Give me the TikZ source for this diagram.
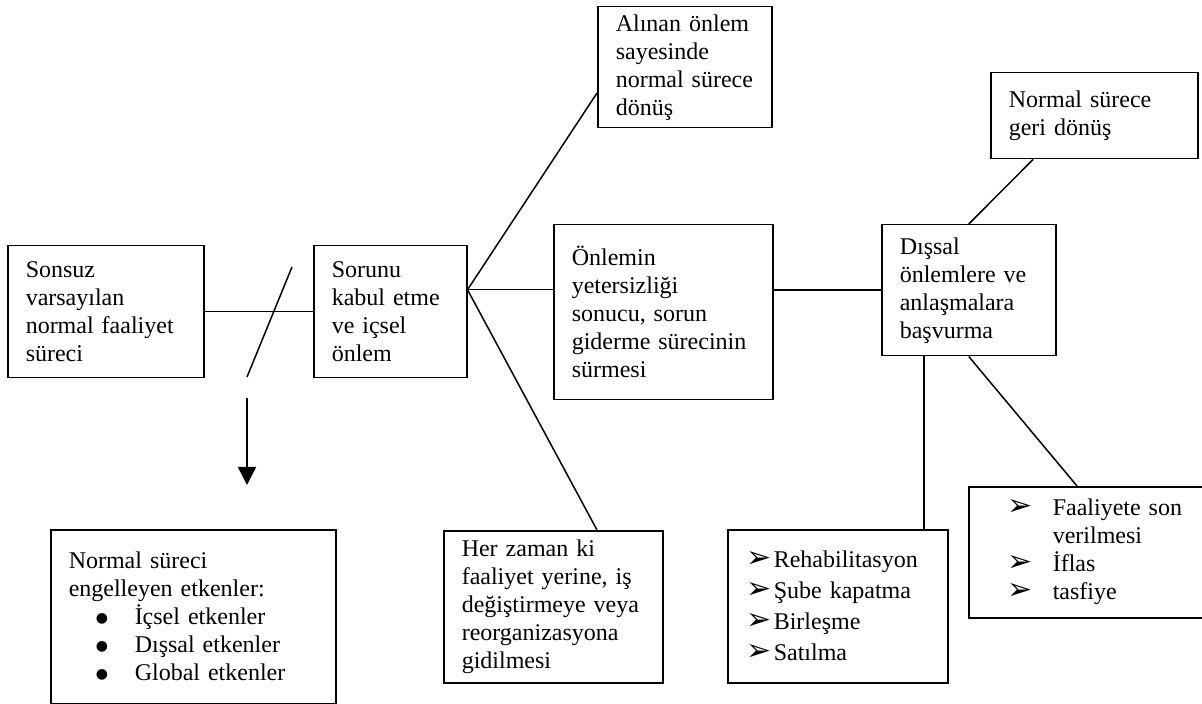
\documentclass[tikz,border=0pt]{standalone}
\usepackage{fontspec}
\setmainfont{Liberation Serif}
\newfontfamily\okfont{DejaVu Sans}
\usetikzlibrary{arrows.meta}

% list marks
\newcommand{\nokta}{\hspace*{13.5pt}\makebox[19.5pt][l]{\raisebox{1pt}{\okfont\fontsize{7}{7}\selectfont ●}}}
\newcommand{\ok}{\hspace*{0.5pt}\makebox[13.5pt][l]{\okfont\fontsize{15}{14}\selectfont ➢}}
\newcommand{\okk}{\hspace*{10.5pt}\makebox[22.5pt][l]{\okfont\fontsize{15}{14}\selectfont ➢}}

\begin{document}
\begin{tikzpicture}[
    x=0.5pt, y=-0.5pt,
    line width=0.75pt,
    >={Triangle[length=9pt,width=9pt]},
    kutu/.style={draw, anchor=north west, align=left, inner xsep=9pt, inner ysep=0pt,
                 font=\fontsize{12}{14}\selectfont}
]

\useasboundingbox (0,0) rectangle (1202,704);

% Main line
\node[kutu, minimum width=98pt, minimum height=66pt, text width=80pt] (sonsuz) at (7,245)
    {Sonsuz\\varsayılan\\normal faaliyet\\süreci};
\node[kutu, minimum width=76.5pt, minimum height=66pt, text width=58.5pt] (sorunu) at (313,245)
    {Sorunu\\kabul etme\\ve içsel\\önlem};
\node[kutu, minimum width=109.5pt, minimum height=87.5pt, text width=91.5pt] (onlemin) at (553,224)
    {Önlemin\\yetersizliği\\sonucu, sorun\\giderme sürecinin\\sürmesi};
\node[kutu, minimum width=87pt, minimum height=65.5pt, text width=69pt] (disal) at (881,224)
    {Dışsal\\önlemlere ve\\anlaşmalara\\başvurma};

% Outcomes
\node[kutu, minimum width=87pt, minimum height=60.5pt, text width=69pt] (alinan) at (597,6)
    {Alınan önlem\\sayesinde\\normal sürece\\dönüş};
\node[kutu, minimum width=103.5pt, minimum height=43pt, text width=85.5pt] (geri) at (990,72)
    {Normal sürece\\geri dönüş};
\node[kutu, minimum width=142.5pt, minimum height=87pt, text width=124.5pt] (etken) at (50,529)
    {Normal süreci\\engelleyen etkenler:\\\nokta İçsel etkenler\\\nokta Dışsal etkenler\\\nokta Global etkenler};
\node[kutu, minimum width=109.5pt, minimum height=76pt, text width=91.5pt] (herzaman) at (443,530)
    {Her zaman ki\\faaliyet yerine, iş\\değiştirmeye veya\\reorganizasyona\\gidilmesi};
\node[kutu, minimum width=110pt, minimum height=76.5pt, text width=92pt,
      font=\fontsize{12}{15.5}\selectfont] (rehab) at (727,529)
    {\ok Rehabilitasyon\\\ok Şube kapatma\\\ok Birleşme\\\ok Satılma};
\node[kutu, minimum width=118pt, minimum height=65.5pt, text width=100pt] (faaliyet) at (968,486)
    {\okk Faaliyete son\\\hspace*{33pt}verilmesi\\\okk İflas\\\okk tasfiye};

% Break and arrow
\coordinate (kesA) at (292,267);
\coordinate (kesB) at (247,377);
\coordinate (okA) at (247,398);
\coordinate (okB) at (247,485);
\draw (sonsuz) -- (sorunu);
\draw (kesA) -- (kesB);
\draw[->] (okA) -- (okB);

% Branches
\coordinate (hub) at ([yshift=11pt]sorunu.east);
\draw (hub) -- ([yshift=-43.5pt]alinan.north west);
\draw (hub) -- (hub -| onlemin.west);
\draw (hub) -- ([xshift=77pt]herzaman.north west);
\draw (onlemin.east |- disal.west) -- (disal.west);

\draw (disal.north) -- ([xshift=21.5pt]geri.south west);
\coordinate (dik) at ([xshift=21.5pt]disal.south west);
\draw (dik) -- (dik |- rehab.north);
\draw (disal.south) -- ([xshift=54.5pt]faaliyet.north west);

\end{tikzpicture}
\end{document}
